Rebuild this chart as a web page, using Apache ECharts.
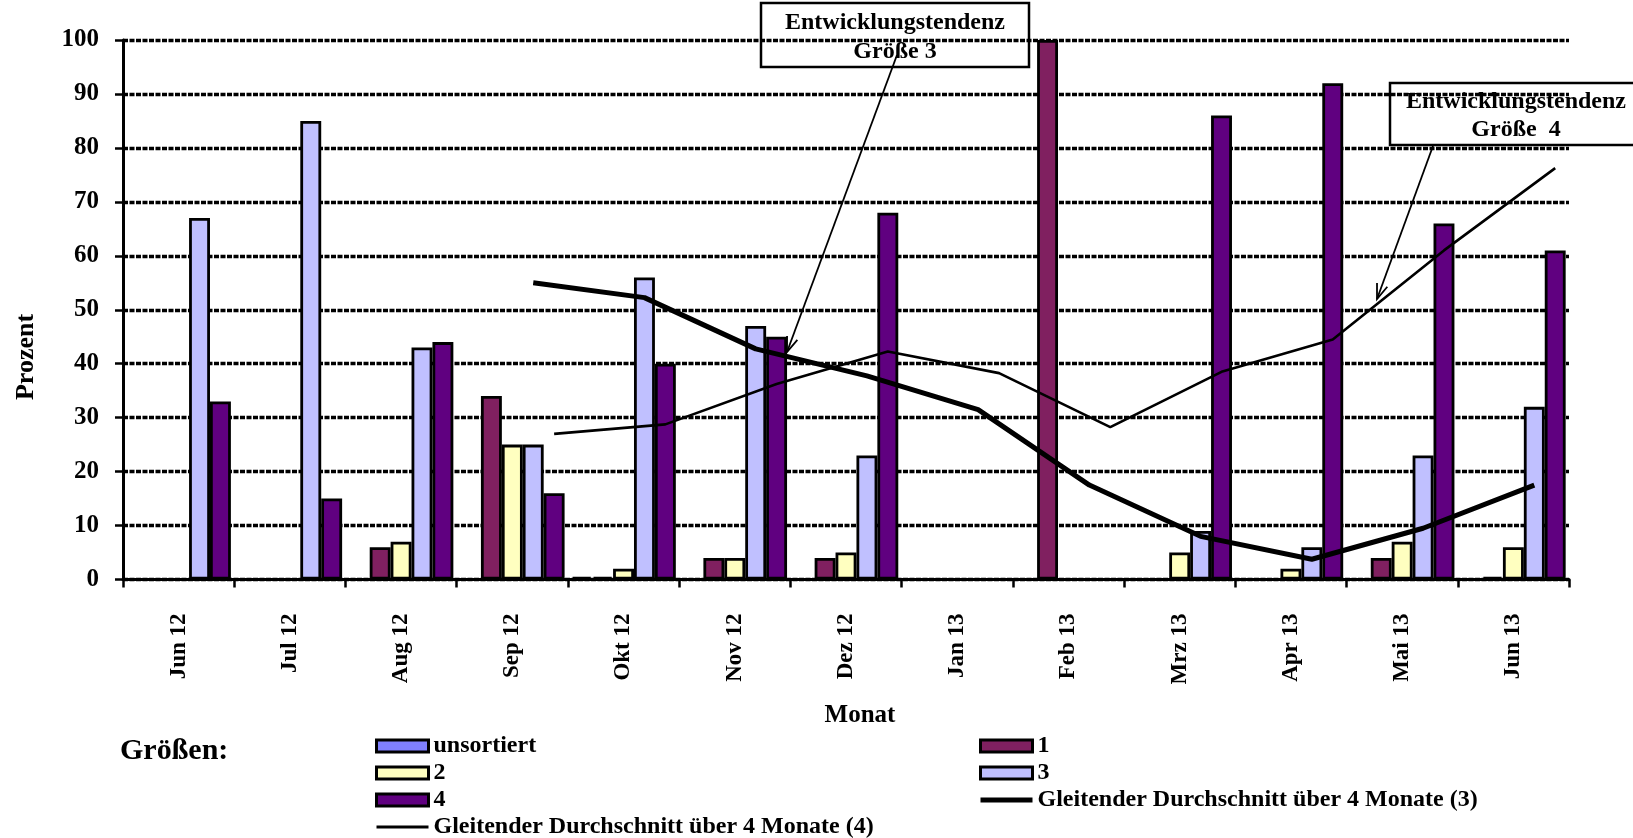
<!DOCTYPE html>
<html><head><meta charset="utf-8">
<script src="https://cdn.jsdelivr.net/npm/echarts@6/dist/echarts.min.js"></script>
<style>html,body{margin:0;padding:0;background:#fff}#c{width:1633px;height:838px}</style>
</head><body><div id="c"></div>
<script>
const months = ['Jun 12','Jul 12','Aug 12','Sep 12','Okt 12','Nov 12','Dez 12','Jan 13','Feb 13','Mrz 13','Apr 13','Mai 13','Jun 13'];
const unsortiert = [0,0,0,0,0.5,0,0,0,0,0,0,0,0];
const groesse1 = [0,0,6,34,0.5,4,4,0,100,0,0,4,0.5];
const groesse2 = [0,0,7,25,2,4,5,0,0,5,2,7,6];
const groesse3 = [67,85,43,25,56,47,23,0,0,9,6,23,32];
const groesse4 = [33,15,44,16,40,45,68,0,0,86,92,66,61];
const maMonths = ['Sep 12','Okt 12','Nov 12','Dez 12','Jan 13','Feb 13','Mrz 13','Apr 13','Mai 13','Jun 13'];
const gd3 = [55,52.25,42.75,37.75,31.5,17.5,8,3.75,9.5,17.5];
const gd4 = [27,28.75,36.25,42.25,38.25,28.25,38.5,44.5,61,76.25];
const yTicks = [0,10,20,30,40,50,60,70,80,90,100];

const FONT = '"Liberation Serif","Times New Roman",serif';
const barSeries = [
  {name:'unsortiert', data:unsortiert, color:'#8080ff'},
  {name:'1', data:groesse1, color:'#802060'},
  {name:'2', data:groesse2, color:'#ffffc0'},
  {name:'3', data:groesse3, color:'#c0c0ff'},
  {name:'4', data:groesse4, color:'#600080'}
];
const catGap = 0.06;
const nBars = barSeries.length;
const barFrac = (1 - catGap) / nBars;
function barCenter(k){ return catGap/2 + barFrac*(k+0.5); }
const GD3 = 'Gleitender Durchschnitt über 4 Monate (3)';
const GD4 = 'Gleitender Durchschnitt über 4 Monate (4)';

const series = barSeries.map(s => ({
  type:'bar', name:s.name, data:s.data, xAxisIndex:0, yAxisIndex:0,
  barGap:'0%', barCategoryGap:(catGap*100)+'%',
  itemStyle:{color:s.color, borderColor:'#000', borderWidth:2.8},
  emphasis:{disabled:true}, z:2
}));
series.push({
  type:'line', name:GD3, xAxisIndex:1, yAxisIndex:0, symbol:'none',
  data: gd3.map((v,i)=>[months.indexOf(maMonths[i]) + barCenter(3), v]),
  lineStyle:{color:'#000', width:5}, itemStyle:{color:'#000'}, z:5, emphasis:{disabled:true}
});
series.push({
  type:'line', name:GD4, xAxisIndex:1, yAxisIndex:0, symbol:'none',
  data: gd4.map((v,i)=>[months.indexOf(maMonths[i]) + barCenter(4), v]),
  lineStyle:{color:'#000', width:2.6}, itemStyle:{color:'#000'}, z:5, emphasis:{disabled:true}
});

function arrow(x1,y1,x2,y2){
  const a = Math.atan2(y2-y1, x2-x1), L = 16, s = 0.35;
  return [
    {type:'line', shape:{x1,y1,x2,y2}, style:{stroke:'#000', lineWidth:1.8}, z:20},
    {type:'polyline', shape:{points:[[x2-L*Math.cos(a-s), y2-L*Math.sin(a-s)],[x2,y2],[x2-L*Math.cos(a+s), y2-L*Math.sin(a+s)]]}, style:{stroke:'#000', lineWidth:1.8, fill:null}, z:20}
  ];
}
function barItem(n){ return {name:n, icon:'rect'}; }
function lineItem(n, w){ return {name:n, itemStyle:{opacity:0}, lineStyle:{width:w, color:'#000'}}; }

const legendCommon = {
  orient:'vertical', top:734, height:200, itemWidth:52, itemHeight:12, itemGap:3, padding:0,
  selectedMode:false,
  textStyle:{fontFamily:FONT, fontWeight:'bold', fontSize:24, color:'#000', lineHeight:22},
  itemStyle:{borderColor:'#000', borderWidth:3}
};

const option = {
  animation:false,
  backgroundColor:'#fff',
  grid:{left:123, right:64, top:40, bottom:258.5, containLabel:false},
  legend:[
    Object.assign({}, legendCommon, {left:375, data:[barItem('unsortiert'),barItem('2'),barItem('4'),lineItem(GD4,3)]}),
    Object.assign({}, legendCommon, {left:978, data:[barItem('1'),barItem('3'),lineItem(GD3,5)]})
  ],
  xAxis:[
    {type:'category', data:months, boundaryGap:true,
     axisLine:{show:true, lineStyle:{color:'#000', width:3}},
     axisTick:{show:true, alignWithLabel:false, length:8, lineStyle:{color:'#000', width:2.5}},
     axisLabel:{rotate:90, margin:34, fontFamily:FONT, fontWeight:'bold', fontSize:23, color:'#000'},
     splitLine:{show:false}},
    {type:'value', min:0, max:months.length, show:false, splitLine:{show:false}}
  ],
  yAxis:{type:'value', min:yTicks[0], max:yTicks[yTicks.length-1], interval:10,
    axisLine:{show:true, lineStyle:{color:'#000', width:3}},
    axisTick:{show:true, length:8, lineStyle:{color:'#000', width:2.5}},
    axisLabel:{margin:24, fontFamily:FONT, fontWeight:'bold', fontSize:25, color:'#000'},
    splitLine:{show:true, lineStyle:{color:'#000', width:3.3, type:[5,1.5]}}
  },
  series,
  graphic:[
    {type:'rect', shape:{x:761, y:3, width:268, height:64}, style:{fill:null, stroke:'#000', lineWidth:2.5}, z:20},
    {type:'text', x:895, y:37, style:{text:'Entwicklungstendenz\nGröße 3', font:'bold 24px '+FONT, textAlign:'center', textVerticalAlign:'middle', lineHeight:29, fill:'#000'}, z:20},
    {type:'rect', shape:{x:1390, y:83, width:262, height:62}, style:{fill:null, stroke:'#000', lineWidth:2.5}, z:20},
    {type:'text', x:1516, y:116, style:{text:'Entwicklungstendenz\nGröße  4', font:'bold 24px '+FONT, textAlign:'center', textVerticalAlign:'middle', lineHeight:28, fill:'#000'}, z:20},
    ...arrow(897,55,787,352),
    ...arrow(1433,146,1377,299),
    {type:'text', x:26, y:357, rotation:Math.PI/2, style:{text:'Prozent', font:'bold 26px '+FONT, textAlign:'center', textVerticalAlign:'middle', fill:'#000'}, z:20},
    {type:'text', x:860, y:716, style:{text:'Monat', font:'bold 25px '+FONT, textAlign:'center', textVerticalAlign:'middle', fill:'#000'}, z:20},
    {type:'text', x:120, y:751, style:{text:'Größen:', font:'bold 30px '+FONT, textAlign:'left', textVerticalAlign:'middle', fill:'#000'}, z:20},
    {type:'rect', shape:{x:110, y:759, width:150, height:16}, style:{fill:'#fff'}, z:21}
  ]
};
const chart = echarts.init(document.getElementById('c'), null, {renderer:'canvas'});
chart.setOption(option);
</script>
</body></html>
